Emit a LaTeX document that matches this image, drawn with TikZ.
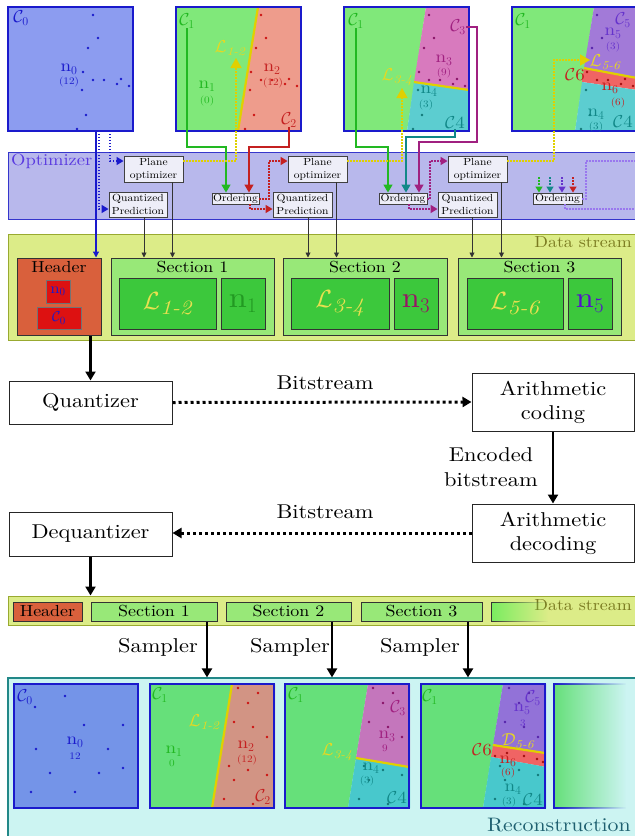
\documentclass[tikz,border=0pt]{standalone}
\usepackage{amsmath}
\usepackage{fontspec}
\setmainfont{lmroman10-regular.otf}[ItalicFont=lmroman10-italic.otf,BoldFont=lmroman10-bold.otf,FakeStretch=1.12]
\usetikzlibrary{arrows.meta,fadings}
\definecolor{pblue}{HTML}{1A1ACC}
\definecolor{blueA}{HTML}{8C9CF0}
\definecolor{blueB}{HTML}{7494E8}
\definecolor{grA}{HTML}{80E87A}
\definecolor{grB}{HTML}{66E07A}
\definecolor{salA}{HTML}{EE9C8C}
\definecolor{salB}{HTML}{D29484}
\definecolor{magA}{HTML}{D87ABE}
\definecolor{magB}{HTML}{C476BC}
\definecolor{tealA}{HTML}{5CCDD0}
\definecolor{tealB}{HTML}{48C8CC}
\definecolor{purA}{HTML}{A27AD8}
\definecolor{purB}{HTML}{9272D8}
\definecolor{redband}{HTML}{F06464}
\definecolor{yline}{HTML}{E0D000}
\definecolor{cgreen}{HTML}{22B822}
\definecolor{cred}{HTML}{C42020}
\definecolor{cmag}{HTML}{A02080}
\definecolor{cteal}{HTML}{118888}
\definecolor{cpur}{HTML}{6633CC}
\definecolor{lyel}{HTML}{E8D820}
\definecolor{optfill}{HTML}{B8B8EC}
\definecolor{optline}{HTML}{3535CC}
\definecolor{opttext}{HTML}{5A3AE0}
\definecolor{boxfill}{HTML}{EEEEF8}
\definecolor{dsfill}{HTML}{DCEC88}
\definecolor{dsline}{HTML}{99AA30}
\definecolor{dstext}{HTML}{7A7A20}
\definecolor{hdrfill}{HTML}{D9603C}
\definecolor{hdrred}{HTML}{DD1111}
\definecolor{secfill}{HTML}{98E878}
\definecolor{secin}{HTML}{3CC83C}
\definecolor{Lyel}{HTML}{E8E050}
\definecolor{nsec1}{HTML}{229922}
\definecolor{nsec3}{HTML}{991166}
\definecolor{nsec5}{HTML}{5511CC}
\definecolor{recfill}{HTML}{CCF4F2}
\definecolor{recline}{HTML}{228888}
\definecolor{rectext}{HTML}{1F6070}
\definecolor{dotblue}{HTML}{1A1ACC}
\definecolor{dotred}{HTML}{CC1111}
\definecolor{dotmag}{HTML}{881166}
\definecolor{dotteal}{HTML}{117777}
\definecolor{dotpur}{HTML}{5522AA}
\definecolor{ordviolet}{HTML}{9977EE}
\newcommand\myfA{\fontsize{20}{24}\selectfont}
\newcommand\myfB{\fontsize{16}{19}\selectfont}
\newcommand\myfO{\fontsize{16.5}{19}\selectfont}
\newcommand\myfR{\fontsize{19.5}{22}\selectfont}
\newcommand\myfC{\fontsize{10.3}{13}\selectfont}
\newcommand\myfL{\fontsize{17}{19}\selectfont}
\newcommand\myfH{\fontsize{15}{17}\selectfont}
\newcommand\myfS{\fontsize{10}{11}\selectfont}
\newcommand\myfXL{\fontsize{29}{31}\selectfont}
\newcommand\patA{(85,8),(90,31),(80,41),(75,65),(85,73),(96,73),(109,77),(113,72),(121,79),(74,83),(78,108),(69,122)}
\newcommand\patB{(88,4),(108,9),(98,19),(84,38),(103,43),(117,53),(79,82),(98,86),(84,96),(117,91),(74,115),(103,120)}
\newcommand\patC{(51,12),(21,23),(70,41),(109,41),(22,65),(94,65),(36,89),(85,89),(109,84),(17,108),(61,108)}
\newcommand\patD{(74,72),(86,69),(103,72),(116,75),(122,78)}
\newcommand\mydots[2]{\foreach \p in #1 {\fill[#2] \p circle (1.3);}}
\newcommand\region[4]{\begin{scope}\clip #1; \fill[#2] (-2,-2) rectangle (127,126); \mydots{#3}{#4}\end{scope}}
\tikzfading[name=fadeR, left color=transparent!0, middle color=transparent!15, right color=transparent!100]
\begin{document}
\begin{tikzpicture}[x=1pt,y=-1pt,
  lbl/.style={inner sep=0pt,font=\myfL},
  num/.style={inner sep=0pt,font=\myfS},
  smallbox/.style={draw=black!75,fill=boxfill,line width=0.9pt,font=\myfC,align=center,inner sep=0pt},
  bigbox/.style={draw=black!85,fill=white,line width=1pt,font=\myfA,align=center,inner sep=0pt},
  secbox/.style={draw=black!80,fill=secfill,line width=1pt,inner sep=0pt},
  inbox/.style={draw=black!80,fill=secin,line width=1pt,inner sep=0pt,font=\myfXL},
  cline/.style={line width=1.4pt,-{Triangle[length=8pt,width=9pt]}},
  dotln/.style={line width=1.4pt,dash pattern=on 1.4pt off 1.6pt,-{Triangle[length=7pt,width=8pt]}},
  dotplain/.style={line width=1.2pt,dash pattern=on 1.4pt off 1.6pt},
  thinarr/.style={draw=black!80,line width=0.9pt,-{Triangle[length=5pt,width=5pt]}},
  thickarr/.style={line width=2.6pt,-{Triangle[length=9pt,width=10pt]}},
  thickdot/.style={line width=3pt,dash pattern=on 3pt off 3pt,-{Triangle[length=9pt,width=10pt]}},
  pnl/.style={draw=pblue,line width=2pt},
  txt/.style={inner sep=0pt}]
\fill[white] (0,0) rectangle (635,836);
\useasboundingbox (0,0) rectangle (635,836);

% ================= top panels
\begin{scope}[shift={(8,7)}]
  \fill[blueA] (0,0) rectangle (125,124);
  \mydots{\patA}{dotblue}
  \draw[pnl] (0,0) rectangle (125,124);
  \node[lbl,text=pblue] (c0t) at (13,11) {$\mathcal{C}_0$};
  \node[lbl,text=pblue] (n0t) at (61,62) {n$_0$};
  \node[num,text=pblue] (n0tc) at (61,75) {(12)};
\end{scope}
\coordinate (tp0a) at (96,131);
\coordinate (tp0b) at (99,131);
\coordinate (tp0c) at (110,131);

\begin{scope}[shift={(176,7)}]
  \fill[grA] (0,0)--(82,0)--(62,124)--(0,124)--cycle;
  \region{(82,0)--(125,0)--(125,124)--(62,124)--cycle}{salA}{\patA}{dotred}
  \draw[yline,line width=2.2pt] (82,0)--(62,124);
  \draw[pnl] (0,0) rectangle (125,124);
  \node[lbl,text=cgreen] (c1a) at (11,14) {$\mathcal{C}_1$};
  \node[lbl,text=lyel] (l12a) at (54,41) {$\mathcal{L}_{\textit{1-2}}$};
  \node[lbl,text=cgreen] (n1a) at (31,79) {n$_1$};
  \node[num,text=cgreen] (n1ac) at (31,94) {(0)};
  \node[lbl,text=cred] (n2a) at (96,62) {n$_2$};
  \node[num,text=cred] (n2ac) at (97,76) {(12)};
  \node[lbl,text=cred] (c2a) at (113,113) {$\mathcal{C}_2$};
\end{scope}

\begin{scope}[shift={(344,7)}]
  \fill[grA] (0,0)--(82,0)--(63,124)--(0,124)--cycle;
  \region{(82,0)--(125,0)--(125,83)--(70,75)--cycle}{magA}{\patA}{dotmag}
  \region{(70,75)--(125,83)--(125,124)--(63,124)--cycle}{tealA}{\patA}{dotteal}
  \draw[yline,line width=2.2pt] (70,75)--(125,83);
  \draw[pnl] (0,0) rectangle (125,124);
  \node[lbl,text=cgreen] (c1b) at (12,14) {$\mathcal{C}_1$};
  \node[lbl,text=cmag] (c3b) at (114,20) {$\mathcal{C}_3$};
  \node[lbl,text=cmag] (n3b) at (100,53) {n$_3$};
  \node[num,text=cmag] (n3bc) at (100,66) {(9)};
  \node[lbl,text=lyel] (l34b) at (53,70) {$\mathcal{L}_{\textit{3-4}}$};
  \node[lbl,text=cteal] (n4b) at (85,84) {n$_4$};
  \node[num,text=cteal] (n4bc) at (82,98) {(3)};
  \node[lbl,text=cteal] (c4b) at (111,116) {$\mathcal{C}$4};
\end{scope}

\begin{scope}[shift={(512,7)}]
  \fill[grA] (0,0)--(82,0)--(63,124)--(0,124)--cycle;
  \region{(82,0)--(125,0)--(125,71)--(72,61)--cycle}{purA}{\patA}{dotpur}
  \region{(72,61)--(125,71)--(125,83)--(70,75)--cycle}{redband}{\patA}{dotred!80!black}
  \region{(70,75)--(125,83)--(125,124)--(63,124)--cycle}{tealA}{\patA}{dotteal}
  \draw[yline,line width=2.2pt] (72,61)--(125,71);
  \draw[pnl] (0,0) rectangle (125,124);
  \node[lbl,text=cgreen] (c1c) at (11,14) {$\mathcal{C}_1$};
  \node[lbl,text=cpur] (c5c) at (111,13) {$\mathcal{C}_5$};
  \node[lbl,text=cpur] (n5c) at (101,26) {n$_5$};
  \node[num,text=cpur] (n5cc) at (101,40) {(3)};
  \node[lbl,text=lyel] (l56c) at (93,55) {$\mathcal{L}_{\textit{5-6}}$};
  \node[lbl,text=cred] (c6c) at (63,68) {$\mathcal{C}$6};
  \node[lbl,text=cred] (n6c) at (98,81) {n$_6$};
  \node[num,text=cred] (n6cc) at (106,96) {(6)};
  \node[lbl,text=cteal] (n4c) at (84,107) {n$_4$};
  \node[num,text=cteal] (n4cc) at (84,120) {(3)};
  \node[lbl,text=cteal] (c4c) at (111,115) {$\mathcal{C}$4};
\end{scope}

% ================= optimizer band
\node[draw=optline,fill=optfill,line width=1pt,minimum width=628pt,minimum height=67pt,inner sep=0pt] (optband) at (322,185.5) {};
\node[txt,anchor=west,text=opttext,font=\myfO] (opttxt) at (11,161) {Optimizer};
\node[smallbox,minimum width=59pt,minimum height=26pt] (po1) at (153.5,169) {Plane\\optimizer};
\node[smallbox,minimum width=58pt,minimum height=25pt] (qp1) at (138,204.5) {Quantized\\Prediction};
\node[smallbox,minimum width=47pt,minimum height=11pt] (ord1) at (235.5,198.5) {Ordering};
\node[smallbox,minimum width=59pt,minimum height=26pt] (po2) at (317.5,169) {Plane\\optimizer};
\node[smallbox,minimum width=59pt,minimum height=25pt] (qp2) at (302.5,204.5) {Quantized\\Prediction};
\node[smallbox,minimum width=48pt,minimum height=11pt] (ord2) at (403,198.5) {Ordering};
\node[smallbox,minimum width=59pt,minimum height=26pt] (po3) at (477.5,169) {Plane\\optimizer};
\node[smallbox,minimum width=59pt,minimum height=25pt] (qp3) at (467.5,204.5) {Quantized\\Prediction};
\node[smallbox,minimum width=49pt,minimum height=11pt] (ord3) at (557.5,198.5) {Ordering};

% ================= data stream 1
\node[draw=dsline,fill=dsfill,line width=1pt,minimum width=628pt,minimum height=106pt,inner sep=0pt] (ds1) at (322,287) {};
\node[txt,anchor=east,text=dstext,font=\myfB] (ds1t) at (632,242) {Data stream};
\node[draw=black!80,fill=hdrfill,line width=1pt,minimum width=84pt,minimum height=77pt,inner sep=0pt] (hdr) at (59,296.5) {};
\node[txt,font=\myfB] (hdrt) at (59,267) {Header};
\node[draw=black!55,fill=hdrred,line width=0.8pt,minimum width=24pt,minimum height=23pt,inner sep=0pt,font=\myfH,text=pblue] (hn0) at (58,291.5) {n$_0$};
\node[draw=black!55,fill=hdrred,line width=0.8pt,minimum width=44pt,minimum height=22pt,inner sep=0pt,font=\myfH,text=pblue] (hc0) at (59,318) {$\mathcal{C}_0$};

\node[secbox,minimum width=163pt,minimum height=77pt] (sec1) at (192.5,296.5) {};
\node[txt,font=\myfB] (sec1t) at (192.5,267) {Section 1};
\node[inbox,minimum width=97pt,minimum height=51pt,text=Lyel] (sl1) at (167.5,303.5) {$\mathcal{L}_{\textit{1-2}}$};
\node[inbox,minimum width=44pt,minimum height=51pt,text=nsec1] (sn1) at (243,303.5) {n$_1$};

\node[secbox,minimum width=164pt,minimum height=77pt] (sec2) at (365,296.5) {};
\node[txt,font=\myfB] (sec2t) at (365,267) {Section 2};
\node[inbox,minimum width=98pt,minimum height=51pt,text=Lyel] (sl2) at (340,303.5) {$\mathcal{L}_{\textit{3-4}}$};
\node[inbox,minimum width=44pt,minimum height=51pt,text=nsec3] (sn2) at (416,303.5) {n$_3$};

\node[secbox,minimum width=163pt,minimum height=77pt] (sec3) at (539.5,296.5) {};
\node[txt,font=\myfB] (sec3t) at (539.5,267) {Section 3};
\node[inbox,minimum width=96pt,minimum height=51pt,text=Lyel] (sl3) at (515,303.5) {$\mathcal{L}_{\textit{5-6}}$};
\node[inbox,minimum width=44pt,minimum height=51pt,text=nsec5] (sn3) at (590,303.5) {n$_5$};

% ================= connectors, top
\coordinate (gk1) at (226,147);
\coordinate (rk1) at (249,147);
\draw[cline,cgreen] (c1a.south) |- (gk1) -- (gk1 |- ord1.north);
\draw[cline,cred] (c2a.south) |- (rk1) -- (rk1 |- ord1.north);
\coordinate (yk1) at (236,161);
\coordinate (yt1) at (236,58);
\draw[dotln,yline,-{Triangle[length=10pt,width=11pt]}] (po1.east |- yk1) -- (yk1) -- (yt1);

\draw[pblue,line width=1.2pt,-{Triangle[length=6pt,width=6pt]}] (tp0a) -- (tp0a |- hdr.north);
\coordinate (bk1) at (99,209);
\coordinate (bk2) at (110,161);
\draw[dotln,pblue] (tp0b) -- (bk1) -- (qp1.west |- bk1);
\draw[dotln,pblue] (tp0c) -- (bk2) -- (po1.west |- bk2);

\coordinate (rk1a) at (269,199);
\coordinate (rk1b) at (269,161);
\coordinate (rk1c) at (250,209);
\draw[dotln,cred] (ord1.east |- rk1a) -- (rk1a) -- (rk1b) -- (po2.west |- rk1b);
\draw[dotln,cred] (ord1.south -| rk1c) -- (rk1c) -- (qp2.west |- rk1c);

\coordinate (gk2) at (388,147);
\coordinate (tk2) at (406,137);
\coordinate (mk2) at (477,142);
\coordinate (mk2b) at (419,142);
\draw[cline,cgreen] (c1b.south) |- (gk2) -- (gk2 |- ord2.north);
\draw[cline,cteal] (c4b.south) |- (tk2) -- (tk2 |- ord2.north);
\draw[cline,cmag] (c3b.east) -| (mk2) -- (mk2b) -- (mk2b |- ord2.north);
\coordinate (yk2) at (402,161);
\coordinate (yt2) at (402,88);
\draw[dotln,yline,-{Triangle[length=10pt,width=11pt]}] (po2.east |- yk2) -- (yk2) -- (yt2);

\coordinate (mk2c) at (430,199);
\coordinate (mk2d) at (430,161);
\coordinate (mk2e) at (409,209);
\draw[dotln,cmag] (ord2.east |- mk2c) -- (mk2c) -- (mk2d) -- (po3.west |- mk2d);
\draw[dotln,cmag] (ord2.south -| mk2e) -- (mk2e) -- (qp3.west |- mk2e);

\coordinate (yk3a) at (554,161);
\coordinate (yk3b) at (554,60);
\coordinate (yt3) at (590,60);
\draw[dotln,yline,-{Triangle[length=10pt,width=11pt]}] (po3.east |- yk3a) -- (yk3a) -- (yk3b) -- (yt3);

\coordinate (vk1) at (586,199);
\coordinate (vk2) at (586,161);
\coordinate (vk3) at (640,161);
\coordinate (vk4) at (565,209);
\coordinate (vk5) at (640,209);
\draw[dotplain,ordviolet] (ord3.east |- vk1) -- (vk1) -- (vk2) -- (vk3);
\draw[dotplain,ordviolet] (ord3.south -| vk4) -- (vk4) -- (vk5);

\coordinate (oa1) at (539,177);
\coordinate (oa2) at (550,177);
\coordinate (oa3) at (562,177);
\coordinate (oa4) at (573,177);
\draw[cgreen,line width=1.3pt,dash pattern=on 2pt off 1.2pt,-{Triangle[length=6pt,width=7pt]}] (oa1) -- (oa1 |- ord3.north);
\draw[cteal,line width=1.3pt,dash pattern=on 2pt off 1.2pt,-{Triangle[length=6pt,width=7pt]}] (oa2) -- (oa2 |- ord3.north);
\draw[cpur,line width=1.3pt,dash pattern=on 2pt off 1.2pt,-{Triangle[length=6pt,width=7pt]}] (oa3) -- (oa3 |- ord3.north);
\draw[cred,line width=1.3pt,dash pattern=on 2pt off 1.2pt,-{Triangle[length=6pt,width=7pt]}] (oa4) -- (oa4 |- ord3.north);

\draw[thinarr] ([xshift=6pt]qp1.south) -- ([xshift=6pt]qp1.south |- sec1.north);
\draw[thinarr] ([xshift=19pt]po1.south) -- ([xshift=19pt]po1.south |- sec1.north);
\draw[thinarr] ([xshift=5.5pt]qp2.south) -- ([xshift=5.5pt]qp2.south |- sec2.north);
\draw[thinarr] ([xshift=19pt]po2.south) -- ([xshift=19pt]po2.south |- sec2.north);
\draw[thinarr] ([xshift=4.5pt]qp3.south) -- ([xshift=4.5pt]qp3.south |- sec3.north);
\draw[thinarr] ([xshift=24pt]po3.south) -- ([xshift=24pt]po3.south |- sec3.north);

% ================= middle
\node[bigbox,minimum width=163pt,minimum height=43pt] (quant) at (90.5,402.5) {Quantizer};
\node[bigbox,minimum width=162pt,minimum height=58pt] (arc) at (553,402) {Arithmetic\\coding};
\node[bigbox,minimum width=162pt,minimum height=58pt] (ard) at (553,533) {Arithmetic\\decoding};
\node[bigbox,minimum width=163pt,minimum height=44pt] (deq) at (90.5,534) {Dequantizer};
\node[txt,font=\myfA] (bs1) at (325,383) {Bitstream};
\node[txt,font=\myfA] (bs2) at (325,512) {Bitstream};
\node[txt,font=\fontsize{20}{25}\selectfont,align=center] (enc) at (491,467) {Encoded\\bitstream};

% ================= data stream 2
\node[draw=dsline,fill=dsfill,line width=1pt,minimum width=628pt,minimum height=29pt,inner sep=0pt] (ds2) at (322,610.5) {};
\node[txt,anchor=east,text=dstext,font=\myfB] (ds2t) at (632,605) {Data stream};
\node[draw=black!80,fill=hdrfill,line width=1pt,minimum width=69pt,minimum height=19pt,inner sep=0pt,font=\myfB] (hdr2) at (47.5,611.5) {Header};
\node[secbox,minimum width=126pt,minimum height=19pt,font=\myfB] (sec1b) at (154,611.5) {Section 1};
\node[secbox,minimum width=125pt,minimum height=19pt,font=\myfB] (sec2b) at (288.5,611.5) {Section 2};
\node[secbox,minimum width=121pt,minimum height=19pt,font=\myfB] (sec3b) at (421.5,611.5) {Section 3};
\fill[secfill!80!green,path fading=fadeR] (491,602) rectangle (548,621);
\draw[black!80,line width=1pt,path fading=fadeR] (548,602) -- (491,602) -- (491,621) -- (548,621);

\draw[thickarr] (hdr.south -| quant.north) -- (quant.north);
\draw[thickdot] (quant.east) -- (arc.west);
\draw[thickarr] (arc.south) -- (ard.north);
\draw[thickdot] (ard.west) -- (ard.west -| deq.east);
\draw[thickarr] (deq.south) -- (deq.south |- ds2.north);

% ================= reconstruction
\node[draw=recline,fill=recfill,line width=1.2pt,minimum width=632pt,minimum height=162pt,inner sep=0pt] (rec) at (324,759) {};
\node[txt,anchor=east,text=rectext,font=\myfR] (rect) at (631,825) {Reconstruction};

\coordinate (sa1) at (207,0);
\coordinate (sa2) at (332,0);
\coordinate (sa3) at (468,0);
\draw[thickarr] (sec1b.south -| sa1) -- (rec.north -| sa1);
\draw[thickarr] (sec2b.south -| sa2) -- (rec.north -| sa2);
\draw[thickarr] (sec3b.south -| sa3) -- (rec.north -| sa3);
\node[txt,font=\myfA] (smp1) at (158,647) {Sampler};
\node[txt,font=\myfA] (smp2) at (290,647) {Sampler};
\node[txt,font=\myfA] (smp3) at (420,647) {Sampler};

\begin{scope}[shift={(14,684)}]
  \fill[blueB] (0,0) rectangle (124,124);
  \mydots{\patC}{dotblue}
  \draw[pnl] (0,0) rectangle (124,124);
  \node[lbl,text=pblue] (c0r) at (11,13) {$\mathcal{C}_0$};
  \node[lbl,text=pblue] (n0r) at (61,58) {n$_0$};
  \node[num,text=pblue] (n0rc) at (61,72) {12};
\end{scope}

\begin{scope}[shift={(150,684)}]
  \fill[grB] (0,0)--(82,0)--(62,124)--(0,124)--cycle;
  \region{(82,0)--(125,0)--(125,124)--(62,124)--cycle}{salB}{\patB}{dotred}
  \draw[yline,line width=2.2pt] (82,0)--(62,124);
  \draw[pnl] (0,0) rectangle (124,124);
  \node[lbl,text=cgreen] (c1r) at (10,11) {$\mathcal{C}_1$};
  \node[lbl,text=lyel] (l12r) at (54,38) {$\mathcal{L}_{\textit{1-2}}$};
  \node[lbl,text=cgreen] (n1r) at (24,67) {n$_1$};
  \node[num,text=cgreen] (n1rc) at (22,79) {0};
  \node[lbl,text=cred] (n2r) at (96,62) {n$_2$};
  \node[num,text=cred] (n2rc) at (97,76) {(12)};
  \node[lbl,text=cred] (c2r) at (113,113) {$\mathcal{C}_2$};
\end{scope}

\begin{scope}[shift={(285,684)}]
  \fill[grB] (0,0)--(83,0)--(63,124)--(0,124)--cycle;
  \region{(83,0)--(125,0)--(125,83)--(71,74)--cycle}{magB}{\patB}{dotmag}
  \region{(71,74)--(125,83)--(125,124)--(63,124)--cycle}{tealB}{\patB}{dotteal}
  \draw[yline,line width=2.2pt] (71,74)--(124,83);
  \draw[pnl] (0,0) rectangle (124,124);
  \node[lbl,text=cgreen] (c1s) at (11,11) {$\mathcal{C}_1$};
  \node[lbl,text=cmag] (c3s) at (113,24) {$\mathcal{C}_3$};
  \node[lbl,text=cmag] (n3s) at (102,52) {n$_3$};
  \node[num,text=cmag] (n3sc) at (100,64) {9};
  \node[lbl,text=lyel] (l34s) at (52,68) {$\mathcal{L}_{\textit{3-4}}$};
  \node[lbl,text=cteal] (n4s) at (86,84) {n$_4$};
  \node[num,text=cteal] (n4sc) at (82,97) {(3)};
  \node[lbl,text=cteal] (c4s) at (112,114) {$\mathcal{C}$4};
\end{scope}

\begin{scope}[shift={(421,684)}]
  \fill[grB] (0,0)--(82,0)--(62,124)--(0,124)--cycle;
  \region{(82,0)--(125,0)--(125,69)--(72,61)--cycle}{purB}{\patB}{dotpur}
  \region{(72,61)--(125,69)--(125,83)--(70,73)--cycle}{redband}{\patD}{dotred!80!black}
  \region{(70,73)--(125,83)--(125,124)--(62,124)--cycle}{tealB}{\patB}{dotteal}
  \draw[yline,line width=2.2pt] (72,61)--(124,69);
  \draw[pnl] (0,0) rectangle (124,124);
  \node[lbl,text=cgreen] (c1u) at (9,13) {$\mathcal{C}_1$};
  \node[lbl,text=cpur] (c5u) at (112,14) {$\mathcal{C}_5$};
  \node[lbl,text=cpur] (n5u) at (101,25) {n$_5$};
  \node[num,text=cpur] (n5uc) at (102,39) {3};
  \node[lbl,text=lyel] (d56u) at (97,57) {$\mathcal{D}_{\textit{5-6}}$};
  \node[lbl,text=cred] (c6u) at (61,66) {$\mathcal{C}$6};
  \node[lbl,text=cred] (n6u) at (87,77) {n$_6$};
  \node[num,text=cred] (n6uc) at (87,89) {(6)};
  \node[lbl,text=cteal] (n4u) at (92,105) {n$_4$};
  \node[num,text=cteal] (n4uc) at (88,118) {(3)};
  \node[lbl,text=cteal] (c4u) at (112,116) {$\mathcal{C}$4};
\end{scope}

\fill[grB,path fading=fadeR] (554,684) rectangle (626,808);
\draw[pblue,line width=2pt,path fading=fadeR] (626,684) -- (554,684) -- (554,808) -- (626,808);
\end{tikzpicture}
\end{document}
